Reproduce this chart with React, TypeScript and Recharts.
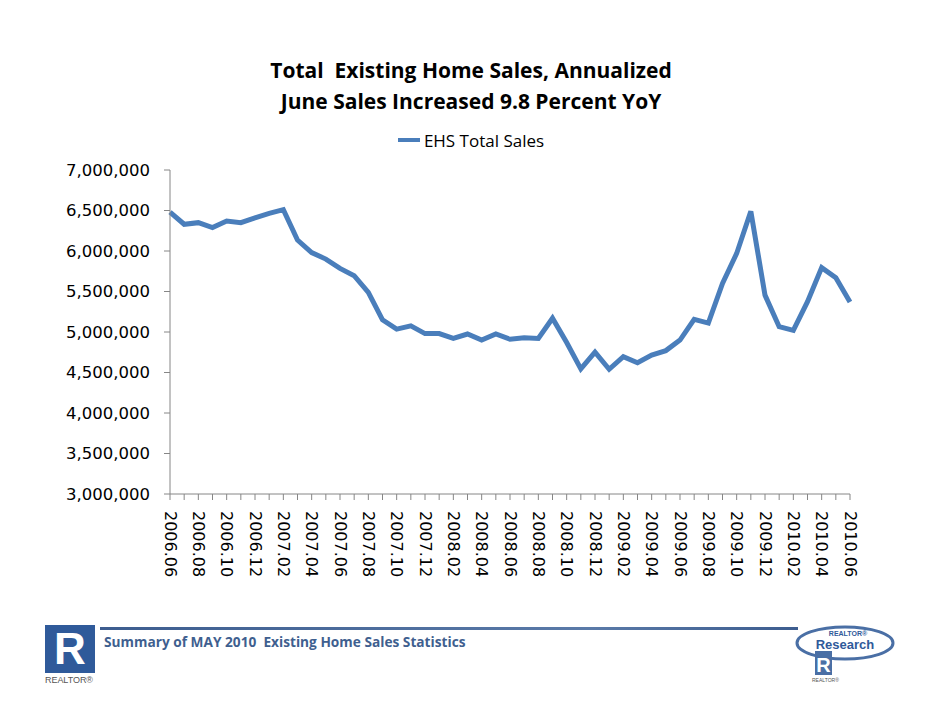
import { Legend, Line, LineChart, XAxis, YAxis } from "recharts";

const months = [
  "2006.06", "2006.07", "2006.08", "2006.09", "2006.10", "2006.11", "2006.12",
  "2007.01", "2007.02", "2007.03", "2007.04", "2007.05", "2007.06", "2007.07",
  "2007.08", "2007.09", "2007.10", "2007.11", "2007.12", "2008.01", "2008.02",
  "2008.03", "2008.04", "2008.05", "2008.06", "2008.07", "2008.08", "2008.09",
  "2008.10", "2008.11", "2008.12", "2009.01", "2009.02", "2009.03", "2009.04",
  "2009.05", "2009.06", "2009.07", "2009.08", "2009.09", "2009.10", "2009.11",
  "2009.12", "2010.01", "2010.02", "2010.03", "2010.04", "2010.05", "2010.06",
];

const ehsTotalSales = [
  6480000, 6330000, 6350000, 6290000, 6370000, 6350000, 6410000,
  6465000, 6510000, 6135000, 5980000, 5900000, 5785000, 5695000,
  5490000, 5150000, 5035000, 5075000, 4980000, 4980000, 4920000,
  4975000, 4900000, 4975000, 4910000, 4930000, 4920000, 5170000,
  4870000, 4545000, 4750000, 4540000, 4695000, 4620000, 4715000,
  4770000, 4900000, 5155000, 5110000, 5600000, 5970000, 6490000,
  5455000, 5065000, 5020000, 5375000, 5795000, 5670000, 5370000,
];

const yTicks = [3000000, 3500000, 4000000, 4500000, 5000000, 5500000, 6000000, 6500000, 7000000];

const data = months.map((m, i) => ({ month: m, sales: ehsTotalSales[i] }));

const BLUE = "#4a7ebb";
const AXIS = "#868686";
const LEGEND_H = 24;

function MonthTick(props: any) {
  const { x, y, payload, index } = props;
  if (index % 2 !== 0) return <g />;
  return (
    <text
      transform={`translate(${x},${y + 9}) rotate(90)`}
      textAnchor="start"
      dominantBaseline="central"
      fontFamily="DejaVu Sans"
      fontSize={16}
      fill="#000"
    >
      {payload.value}
    </text>
  );
}

function LegendContent() {
  return (
    <div
      style={{
        height: LEGEND_H,
        display: "flex",
        justifyContent: "center",
        alignItems: "center",
        fontFamily: "Open Sans",
        fontSize: 17,
        color: "#000",
      }}
    >
      <span style={{ display: "inline-block", width: 22, height: 4, background: BLUE, marginRight: 4 }} />
      <span>EHS Total Sales</span>
    </div>
  );
}

export default function App() {
  return (
    <div style={{ position: "absolute", left: 0, top: 0, width: 942, height: 728, background: "#fff" }}>
      <div
        style={{
          position: "absolute",
          top: 55,
          left: 0,
          width: 942,
          textAlign: "center",
          fontFamily: "Open Sans",
          fontWeight: 700,
          fontSize: 21,
          lineHeight: "31px",
          color: "#000",
        }}
      >
        <div>Total&nbsp; Existing Home Sales, Annualized</div>
        <div>June Sales Increased 9.8 Percent YoY</div>
      </div>

      <div style={{ position: "absolute", left: 0, top: 0 }}>
        <LineChart
          width={942}
          height={728}
          data={data}
          margin={{ top: 170 - LEGEND_H, right: 92, left: 0, bottom: 134 }}
        >
          <XAxis
            dataKey="month"
            interval={0}
            height={100}
            tick={<MonthTick />}
            tickSize={6}
            axisLine={{ stroke: AXIS }}
            tickLine={{ stroke: AXIS }}
          />
          <YAxis
            width={170}
            domain={[3000000, 7000000]}
            ticks={yTicks}
            allowDataOverflow
            tickFormatter={(v: number) => v.toLocaleString("en-US")}
            tick={{ fontFamily: "DejaVu Sans", fontSize: 16.5, fill: "#000" }}
            tickSize={6}
            tickMargin={14}
            axisLine={{ stroke: AXIS }}
            tickLine={{ stroke: AXIS }}
          />
          <Legend
            verticalAlign="top"
            height={LEGEND_H}
            content={<LegendContent />}
            wrapperStyle={{ top: 128, left: 0, width: 942 }}
          />
          <Line
            type="linear"
            dataKey="sales"
            name="EHS Total Sales"
            stroke={BLUE}
            strokeWidth={5}
            dot={false}
            activeDot={false}
            isAnimationActive={false}
          />
        </LineChart>
      </div>

      {/* footer */}
      <svg width={942} height={100} style={{ position: "absolute", left: 0, top: 620 }}>
        <defs>
          <linearGradient id="rule" x1="0" x2="1" y1="0" y2="0">
            <stop offset="0" stopColor="#3d5d8f" />
            <stop offset="0.7" stopColor="#5a7aa8" />
            <stop offset="1" stopColor="#3d5d8f" />
          </linearGradient>
        </defs>
        <rect x={45} y={5} width={50} height={48} fill="#2f5a9a" />
        <text x={70} y={44} textAnchor="middle" fontFamily="Liberation Sans" fontWeight={700} fontSize={44} fill="#fff">
          R
        </text>
        <text x={45} y={63} fontFamily="Liberation Sans" fontSize={9} fill="#555" textLength={48}>
          REALTOR®
        </text>
        <rect x={100} y={7} width={698} height={3} fill="url(#rule)" />
        <text x={104} y={27} fontFamily="Open Sans" fontWeight={700} fontSize={13.7} fill="#3f5f8f">
          Summary of MAY 2010&#160; Existing Home Sales Statistics
        </text>
        <ellipse cx={845} cy={23} rx={48} ry={16} fill="#fff" stroke="#4a6fa5" strokeWidth={3} />
        <text x={848} y={16} textAnchor="middle" fontFamily="Liberation Sans" fontWeight={700} fontSize={7} fill="#2f5a9a">
          REALTOR®
        </text>
        <text x={845} y={29} textAnchor="middle" fontFamily="Liberation Sans" fontWeight={700} fontSize={13} fill="#2f5a9a">
          Research
        </text>
        <rect x={815} y={31} width={17} height={24} fill="#4a6fa5" />
        <text x={823.5} y={52} textAnchor="middle" fontFamily="Liberation Sans" fontWeight={700} fontSize={20} fill="#fff">
          R
        </text>
        <text x={812} y={62} fontFamily="Liberation Sans" fontSize={5} fill="#555">
          REALTOR®
        </text>
      </svg>
    </div>
  );
}
